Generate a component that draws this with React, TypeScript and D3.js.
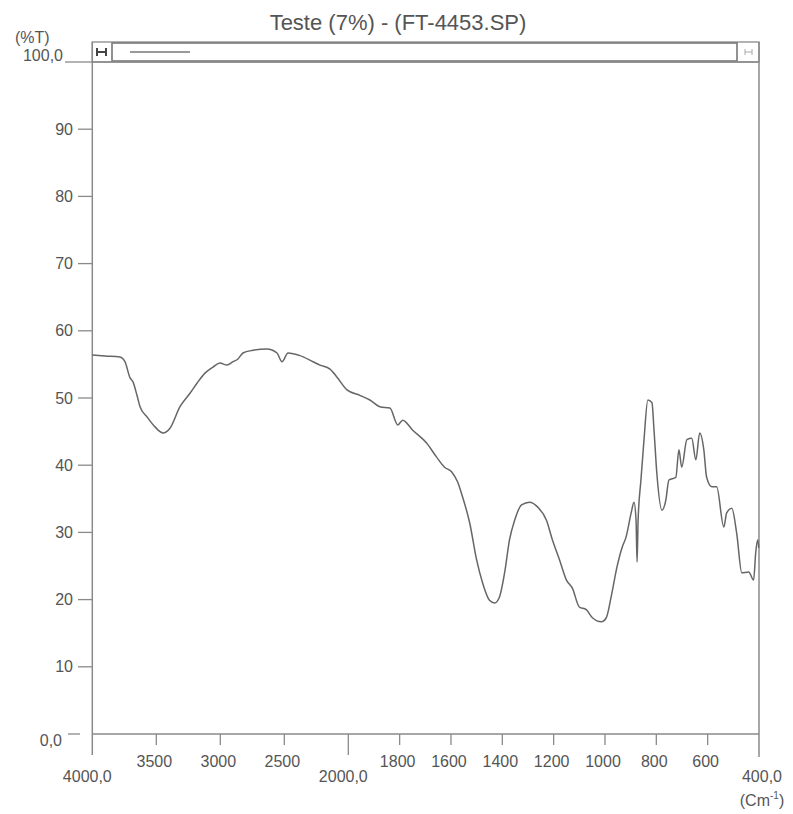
import * as d3 from 'd3';

// spectrum (wavenumber cm-1 -> %T)
const wavenumbers = [
  4000, 3901, 3784, 3745, 3705, 3682, 3651, 3627, 3573, 3510,
  3448, 3393, 3315, 3237, 3182, 3120, 3057, 3002, 2948, 2901,
  2862, 2823, 2745, 2635, 2557, 2518, 2471, 2377, 2276, 2221,
  2143, 2088, 2010, 1955, 1916, 1877, 1838, 1807, 1788, 1749,
  1695, 1656, 1625, 1597, 1574, 1555, 1527, 1500, 1477, 1450,
  1430, 1411, 1391, 1372, 1352, 1325, 1294, 1263, 1228, 1205,
  1177, 1150, 1127, 1100, 1073, 1049, 1014, 995, 976, 953,
  933, 918, 898, 887, 879, 875, 871, 860, 848, 833,
  817, 809, 798, 778, 763, 751, 724, 712, 701, 681,
  662, 646, 631, 615, 604, 584, 565, 537, 526, 506,
  487, 467, 440, 421, 413, 405, 401,
];
const transmittance = [
  56.4, 56.25, 56.1, 55.4, 53.0, 52.4, 50.4, 48.7, 47.2, 45.7,
  44.8, 45.5, 48.7, 50.7, 52.2, 53.7, 54.6, 55.2, 54.9, 55.4,
  55.8, 56.7, 57.1, 57.3, 56.7, 55.4, 56.7, 56.3, 55.4, 54.9,
  54.3, 53.1, 51.2, 50.4, 49.7, 48.7, 48.5, 46.0, 46.7, 45.2,
  43.3, 41.2, 39.7, 39.0, 37.5, 35.3, 31.4, 25.9, 22.5, 19.9,
  19.5, 20.4, 24.0, 28.9, 31.8, 34.1, 34.5, 33.8, 31.8, 28.9,
  25.9, 22.9, 21.7, 18.9, 18.5, 17.3, 16.7, 17.3, 20.4, 24.9,
  27.8, 29.3, 32.9, 34.5, 31.8, 25.6, 31.8, 37.8, 43.8, 49.7,
  49.3, 45.2, 38.8, 33.3, 34.8, 37.8, 38.2, 42.3, 39.7, 43.8,
  44.0, 40.8, 44.8, 42.3, 38.2, 36.8, 36.8, 30.8, 32.9, 33.6,
  29.9, 24.0, 24.1, 22.9, 26.9, 28.9, 27.7,
];

const yTicks = [10, 20, 30, 40, 50, 60, 70, 80, 90];
const xTicks = [3500, 3000, 2500, 1800, 1600, 1400, 1200, 1000, 800, 600];
const xBreak = 2000;

const TEXT = '#555';
const LINE = '#8a8a8a';
const FONT = '"Liberation Sans", Arial, sans-serif';

export default function App() {
  // two linear pieces: 4000-2000 is drawn at half the scale of 2000-400
  const x = d3.scaleLinear().domain([4000, xBreak, 400]).range([92.3, 348.3, 759]);
  const y = d3.scaleLinear().domain([0, 100]).range([734, 62]);

  const data = wavenumbers.map((w, i) => ({ w, t: transmittance[i] }));
  const line = d3
    .line<{ w: number; t: number }>()
    .x((d) => x(d.w))
    .y((d) => y(d.t))
    .curve(d3.curveMonotoneX);

  const x0 = x(4000);
  const x1 = x(400);
  const yTop = 42;
  const yBase = y(0);

  return (
    <svg
      width={793}
      height={814}
      style={{ position: 'absolute', left: 0, top: 0, background: '#fff' }}
      fontFamily={FONT}
    >
      {/* title */}
      <text x={398} y={30} textAnchor="middle" fontSize={22} fill={TEXT}>
        Teste (7%) - (FT-4453.SP)
      </text>

      {/* scroll strip on top */}
      <rect x={x0} y={yTop} width={x1 - x0} height={y(100) - yTop} fill="none" stroke={LINE} strokeWidth={1.3} />
      <rect x={112} y={yTop + 1} width={737 - 112} height={y(100) - yTop - 2} fill="none" stroke="#777" strokeWidth={1.6} />
      <line x1={130} x2={190} y1={52} y2={52} stroke="#999" strokeWidth={2} />
      <path d="M97,48 V56 M106,48 V56 M97,52 H106" stroke="#444" strokeWidth={2} fill="none" />
      <path d="M745,49 V55 M752,49 V55 M745,52 H752" stroke="#aaa" strokeWidth={1} fill="none" />

      {/* frame */}
      <line x1={x0} x2={x0} y1={yTop} y2={755} stroke={LINE} strokeWidth={1.5} />
      <line x1={x1} x2={x1} y1={yTop} y2={757} stroke={LINE} strokeWidth={1.5} />
      <line x1={x0} x2={x1} y1={yBase} y2={yBase} stroke={LINE} strokeWidth={1.5} />
      <line x1={x0} x2={x1} y1={y(100)} y2={y(100)} stroke={LINE} strokeWidth={1.5} />

      {/* y axis */}
      <text x={15} y={43} fontSize={16} fill={TEXT}>(%T)</text>
      <line x1={65} x2={x0} y1={y(100)} y2={y(100)} stroke={LINE} strokeWidth={1.3} />
      <text x={63} y={y(100) - 1} textAnchor="end" fontSize={16} fill={TEXT}>100,0</text>
      {yTicks.map((t) => (
        <g key={t}>
          <line x1={78} x2={x0} y1={y(t)} y2={y(t)} stroke={LINE} strokeWidth={1.3} />
          <text x={73} y={y(t)} dy="0.35em" textAnchor="end" fontSize={16} fill={TEXT}>
            {t}
          </text>
        </g>
      ))}
      <line x1={68} x2={80} y1={yBase} y2={yBase} stroke={LINE} strokeWidth={1.3} />
      <text x={62} y={yBase + 12} textAnchor="end" fontSize={16} fill={TEXT}>0,0</text>

      {/* x axis */}
      {xTicks.map((w) => (
        <g key={w}>
          <line x1={x(w)} x2={x(w)} y1={yBase} y2={yBase + 11} stroke={LINE} strokeWidth={1.3} />
          <text x={x(w) - 2} y={767} textAnchor="middle" fontSize={16} fill={TEXT}>
            {w}
          </text>
        </g>
      ))}
      <line x1={x(xBreak)} x2={x(xBreak)} y1={yBase} y2={755} stroke={LINE} strokeWidth={1.3} />
      <text x={x(4000) - 5} y={782} textAnchor="middle" fontSize={16} fill={TEXT}>4000,0</text>
      <text x={x(xBreak) - 5} y={782} textAnchor="middle" fontSize={16} fill={TEXT}>2000,0</text>
      <text x={x(400) + 3} y={782} textAnchor="middle" fontSize={16} fill={TEXT}>400,0</text>
      <text x={x(400) + 3} y={806} textAnchor="middle" fontSize={16} fill={TEXT}>
        (Cm<tspan dy={-7} fontSize={10}>-1</tspan><tspan dy={7}>)</tspan>
      </text>

      {/* spectrum */}
      <path d={line(data) ?? ''} fill="none" stroke="#666" strokeWidth={1.5} />
    </svg>
  );
}
